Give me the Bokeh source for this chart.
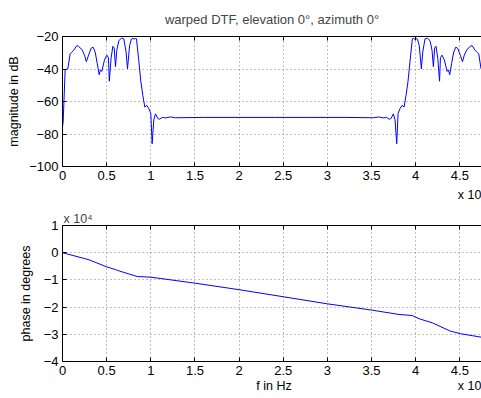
from bokeh.plotting import figure
from bokeh.layouts import column
from bokeh.models import LinearAxis, FixedTicker, Range1d, CustomJSTickFormatter
from bokeh.embed import file_html
from bokeh.resources import INLINE

FONT = "Liberation Sans"

# frequency in units of 1e4 Hz (as displayed, "x 10^4")
mag_f = [0, 0.008, 0.03, 0.06, 0.087, 0.1, 0.125, 0.162, 0.18, 0.22, 0.25, 0.27, 0.295,
         0.325, 0.347, 0.37, 0.393, 0.415, 0.43, 0.445, 0.475, 0.502, 0.52, 0.53, 0.55,
         0.57, 0.585, 0.6, 0.615, 0.638, 0.668, 0.695, 0.72, 0.736, 0.76, 0.78, 0.8, 0.81,
         0.825, 0.838, 0.865, 0.887, 0.91, 0.932, 0.955, 0.978, 1.0, 1.015, 1.034, 1.053,
         1.08, 1.10, 1.13, 1.17, 1.22, 1.28, 1.6, 2.0, 2.4, 2.8, 3.2, 3.52, 3.58, 3.63,
         3.67, 3.70, 3.72, 3.747, 3.766, 3.785, 3.8, 3.822, 3.845, 3.868, 3.89, 3.913,
         3.935, 3.962, 3.975, 3.99, 4.0, 4.02, 4.04, 4.064, 4.08, 4.105, 4.132, 4.162,
         4.185, 4.2, 4.215, 4.23, 4.25, 4.27, 4.28, 4.298, 4.325, 4.355, 4.37, 4.385,
         4.407, 4.43, 4.453, 4.475, 4.505, 4.53, 4.55, 4.58, 4.62, 4.638, 4.675, 4.7,
         4.713, 4.74, 4.77, 4.792, 4.8]
mag_db = [-76, -72, -40.5, -39.9, -30.5, -30, -28.6, -25.6, -26, -28, -31.5, -35.5, -31.5,
          -27.2, -26.6, -29.6, -36.5, -43.5, -40.5, -41.5, -34.5, -31.5, -33, -47.5, -33.5,
          -26, -27, -38.5, -28.5, -22.6, -21, -21.5, -29.5, -39.9, -25.6, -21.6, -21.2, -21.7,
          -21.2, -21.4, -35.5, -47.5, -56.4, -63.4, -62.4, -64.4, -67.4, -86, -71.3, -67.6,
          -70.5, -70.9, -69.8, -70.1, -69.5, -70, -69.8, -69.8, -69.8, -69.8, -69.8, -70, -69.5, -70.1,
          -69.8, -70.9, -70.5, -67.6, -71.3, -86, -67.4, -64.4, -62.4, -63.4, -56.4, -47.5,
          -35.5, -21.4, -21.2, -21.7, -21.2, -21.6, -25.6, -39.9, -29.5, -21.5, -21, -22.6,
          -28.5, -38.5, -27, -26, -33.5, -47.5, -33, -31.5, -34.5, -41.5, -40.5, -43.5,
          -36.5, -29.6, -26.6, -27.2, -31.5, -35.5, -31.5, -28, -26, -25.6, -28.6, -30,
          -30.5, -39.9, -40.5, -72, -76]

ph_f = [0, 0.3, 0.5, 0.6, 0.65, 0.846, 1.0, 1.5, 2.0, 2.5, 3.0, 3.5, 3.81, 3.96, 4.04,
        4.19, 4.39, 4.51, 4.75]
# phase in units of 1e4 degrees (as displayed, "x 10^4")
ph_val = [0, -0.26, -0.52, -0.62, -0.68, -0.875, -0.9, -1.12, -1.36, -1.62, -1.88, -2.11,
          -2.27, -2.31, -2.43, -2.58, -2.88, -2.98, -3.11]

x_ticks = [0, 0.5, 1, 1.5, 2, 2.5, 3, 3.5, 4, 4.5]
mag_ticks = [-100, -80, -60, -40, -20]
ph_ticks = [-4, -3, -2, -1, 0, 1]

title_text = "warped DTF, elevation 0\u00b0, azimuth 0\u00b0"
xlabel = "f in Hz"
ylabel_mag = "magnitude in dB"
ylabel_ph = "phase in degrees"
exp_text = "x 10\u2074"
exp_text_cut = "x 10"

fmt_code = "return String(tick).replace('-', '\u2212');"
TICK_FS = "13px"
LABEL_FS = "12.5px"


def style(p, yticks):
    p.outline_line_color = None
    bottom = p.below[0]
    left = p.left[0]
    bottom.ticker = FixedTicker(ticks=x_ticks)
    left.ticker = FixedTicker(ticks=yticks)
    p.xgrid.ticker = FixedTicker(ticks=x_ticks)
    p.ygrid.ticker = FixedTicker(ticks=yticks)
    for ax in (bottom, left):
        ax.formatter = CustomJSTickFormatter(code=fmt_code)
        ax.axis_line_color = "black"
        ax.major_tick_line_color = "black"
        ax.major_tick_in = 4
        ax.major_tick_out = 0
        ax.minor_tick_in = 0
        ax.minor_tick_out = 0
        ax.major_label_text_font = FONT
        ax.major_label_text_font_size = TICK_FS
        ax.major_label_text_color = "black"
        ax.axis_label_text_font = FONT
        ax.axis_label_text_font_size = LABEL_FS
        ax.axis_label_text_font_style = "normal"
        ax.axis_label_text_color = "black"
    bottom.major_label_standoff = 4
    left.major_label_standoff = 4
    for g in (p.xgrid, p.ygrid):
        g.grid_line_color = "#808080"
        g.grid_line_dash = "1 3"
        g.grid_line_width = 1
    top = LinearAxis(ticker=FixedTicker(ticks=x_ticks),
                     formatter=CustomJSTickFormatter(code="return '';"),
                     major_tick_in=4, major_tick_out=0, minor_tick_in=0, minor_tick_out=0,
                     axis_line_color="black", major_label_standoff=0,
                     major_label_text_font_size="1px")
    p.add_layout(top, "above")
    return bottom, left


def text_axis(p, ticks, code, standoff):
    ax = LinearAxis(ticker=FixedTicker(ticks=ticks), formatter=CustomJSTickFormatter(code=code),
                    axis_line_color=None, major_tick_line_color=None, minor_tick_line_color=None,
                    major_tick_in=0, major_tick_out=0, minor_tick_in=0, minor_tick_out=0,
                    major_label_standoff=standoff, major_label_text_font=FONT,
                    major_label_text_font_size=LABEL_FS, major_label_text_color="black")
    p.add_layout(ax, "below")
    return ax


p1 = figure(width=481, height=207, x_range=Range1d(0, 4.745), y_range=Range1d(-100, -20),
            output_backend="svg", toolbar_location=None,
            min_border_left=62, min_border_right=0, min_border_top=32, min_border_bottom=41)
p1.line(mag_f, mag_db, line_color="#0000ff", line_width=1)
b1, l1 = style(p1, mag_ticks)
l1.axis_label = ylabel_mag
l1.axis_label_standoff = 5
p1.title.text = title_text
p1.title.align = "center"
p1.title.text_font = FONT
p1.title.text_font_size = TICK_FS
p1.title.text_font_style = "normal"
p1.title.standoff = 19
p1.title.offset = 2
text_axis(p1, [4.61], "return '%s';" % exp_text_cut, 5)

p2 = figure(width=481, height=191, x_range=Range1d(0, 4.745), y_range=Range1d(-4, 1),
            output_backend="svg", toolbar_location=None,
            min_border_left=62, min_border_right=0, min_border_top=18, min_border_bottom=37)
p2.line(ph_f, ph_val, line_color="#0000ff", line_width=1)
b2, l2 = style(p2, ph_ticks)
l2.axis_label = ylabel_ph
l2.axis_label_standoff = 8
text_axis(p2, [2.395, 4.61],
          "return tick < 3 ? '%s' : '%s';" % (xlabel, exp_text_cut), 1)
p2.title.text = exp_text
p2.title.align = "left"
p2.title.text_font = FONT
p2.title.text_font_size = LABEL_FS
p2.title.text_font_style = "normal"
p2.title.standoff = 0
p2.title.offset = 1

layout = column(p1, p2)
open("out.html", "w").write(file_html(layout, INLINE))
